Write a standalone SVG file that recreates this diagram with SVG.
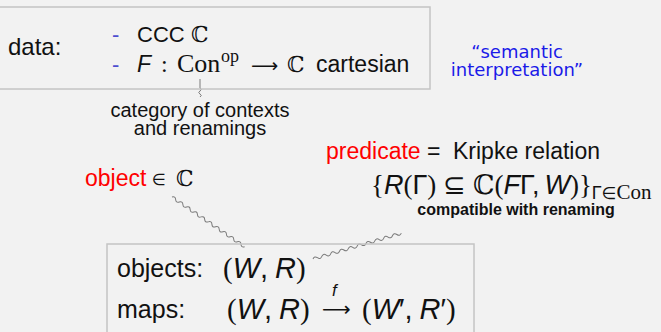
<svg xmlns="http://www.w3.org/2000/svg" width="661" height="332" viewBox="0 0 661 332">
<style>
.s{font-family:"Liberation Sans",Arial,sans-serif;fill:#111}
.i{font-style:italic}
.r{font-family:"Liberation Serif","Times New Roman",serif}
.bb{font-family:"DejaVu Serif",serif}
.dj{font-family:"DejaVu Sans",sans-serif}
.red{fill:#f00}
.blue{font-family:"DejaVu Sans",sans-serif;fill:#1a1ae8}
.dash{fill:#4d4dd0}
.box{fill:none;stroke:#c4c4c4;stroke-width:1.5}
.sq{fill:none;stroke:#7a7a7a;stroke-width:1}
</style>
<rect width="661" height="332" fill="#f2f2f2"/>

<g id="connectors">
<path class="sq" transform="translate(200,79) rotate(90)" d="M0,0 h9 q1.5,-2.5 3,0 t3,0 t3,0"/>
<path class="sq" transform="translate(172,197) rotate(34.4)" d="M0,0 q2.2,-2.8 4.4,0 t4.4,0 t4.4,0 t4.4,0 t4.4,0 t4.4,0 t4.4,0 t4.4,0 t4.4,0 t4.4,0 t4.4,0 t4.4,0 t4.4,0 t4.4,0 t4.4,0 t4.4,0 t4.4,0 t4.4,0 t4.4,0 t4.4,0"/>
<path class="sq" transform="translate(313,259) rotate(-16.3)" d="M0,0 q2.3,-2.8 4.6,0 t4.6,0 t4.6,0 t4.6,0 t4.6,0 t4.6,0 t4.6,0 t4.6,0 t4.6,0 t4.6,0 t4.6,0 t4.6,0 t4.6,0 t4.6,0 t4.6,0 t4.6,0 t4.6,0 t4.6,0 t4.6,0 t4.6,0"/>
</g>

<g id="data">
<rect class="box" x="-2" y="7" width="432" height="82"/>
<text class="s" x="8" y="55" font-size="24">data:</text>
<text class="s dash" x="112" y="42" font-size="22">-</text>
<text class="s dash" x="112" y="72" font-size="22">-</text>
<text class="s" x="137" y="42" font-size="22">CCC</text>
<text class="bb" x="191" y="42" font-size="22" fill="#111">ℂ</text>
<text class="s i" x="137" y="72" font-size="23">F</text>
<text class="r" x="161" y="72" font-size="24" fill="#111">:</text>
<text class="r" x="177" y="72" font-size="26" fill="#111">Con</text>
<text class="r" x="221" y="62" font-size="18" fill="#111">op</text>
<text class="dj" x="251" y="72" font-size="19" fill="#111">⟶</text>
<text class="bb" x="287" y="72" font-size="22" fill="#111">ℂ</text>
<text class="s" x="316" y="72" font-size="23">cartesian</text>
</g>

<g id="semantic">
<text class="blue" x="517" y="58" font-size="18" text-anchor="middle">“semantic</text>
<text class="blue" x="517" y="76" font-size="18" text-anchor="middle">interpretation”</text>
</g>

<g id="category">
<text class="s" x="200" y="117" font-size="20" text-anchor="middle">category of contexts</text>
<text class="s" x="200" y="135" font-size="20" text-anchor="middle">and renamings</text>
</g>

<g id="object">
<text class="s red" x="85" y="186" font-size="23">object</text>
<text class="dj" x="152" y="185" font-size="16" fill="#111">∈</text>
<text class="bb" x="176" y="186" font-size="22" fill="#111">ℂ</text>
</g>

<g id="predicate">
<text class="s red" x="326" y="159" font-size="23">predicate</text>
<text class="s" x="427" y="159" font-size="23">=</text>
<text class="s" x="453" y="159" font-size="23">Kripke relation</text>
<text x="371" y="194" font-size="27" fill="#111"><tspan class="r">{</tspan><tspan class="s i">R</tspan><tspan class="r">(</tspan><tspan class="s">Γ</tspan><tspan class="r">)</tspan><tspan class="dj" dx="7">⊆</tspan><tspan class="bb" dx="7">ℂ</tspan><tspan class="r">(</tspan><tspan class="s i">F</tspan><tspan class="s">Γ</tspan><tspan class="s">,</tspan><tspan class="s i" dx="5">W</tspan><tspan class="r">)</tspan><tspan class="r">}</tspan><tspan class="s" dy="5" font-size="18">Γ</tspan><tspan class="dj" font-size="17">∈</tspan><tspan class="r" font-size="21">Con</tspan></text>
<text class="s" x="516" y="215" font-size="16" font-weight="bold" text-anchor="middle">compatible with renaming</text>
</g>

<g id="objects">
<rect class="box" x="107" y="244" width="367" height="100"/>
<text class="s" x="117" y="277" font-size="25">objects:</text>
<text x="223" y="278" font-size="29" fill="#111"><tspan class="r">(</tspan><tspan class="s i">W</tspan><tspan class="s">,</tspan><tspan class="s i" dx="7">R</tspan><tspan class="r">)</tspan></text>
<text class="s" x="117" y="318" font-size="25">maps:</text>
<text x="227" y="319" font-size="29" fill="#111"><tspan class="r">(</tspan><tspan class="s i">W</tspan><tspan class="s">,</tspan><tspan class="s i" dx="7">R</tspan><tspan class="r">)</tspan></text>
<text class="dj" x="322" y="316" font-size="20" fill="#111">⟶</text>
<text class="s i" x="332" y="296" font-size="17">f</text>
<text x="362" y="319" font-size="29" fill="#111"><tspan class="r">(</tspan><tspan class="s i">W</tspan><tspan class="s">′,</tspan><tspan class="s i" dx="7">R</tspan><tspan class="s">′</tspan><tspan class="r">)</tspan></text>
</g>
</svg>
